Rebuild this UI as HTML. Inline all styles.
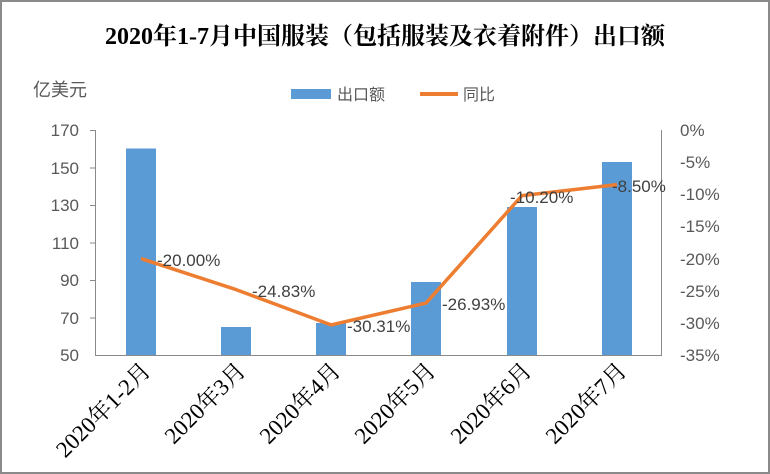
<!DOCTYPE html>
<html><head><meta charset="utf-8"><style>
body{margin:0;background:#fff}
svg{display:block}
</style></head><body>
<svg width="770" height="474" viewBox="0 0 770 474" xmlns="http://www.w3.org/2000/svg">
<rect x="1" y="1" width="768" height="472" fill="#fff" stroke="#8a8a8a" stroke-width="2"/>
<text x="385" y="44" text-anchor="middle" font-family="Liberation Serif, 'Noto Serif CJK SC', serif" font-size="24" font-weight="bold" fill="#000">2020年1-7月中国服装（包括服装及衣着附件）出口额</text>
<text x="33" y="96" font-family="Liberation Sans, 'Noto Sans CJK SC', sans-serif" font-size="18" fill="#595959">亿美元</text>
<rect x="291" y="89" width="40" height="10" fill="#5b9bd5"/>
<text x="337" y="100" font-family="Liberation Sans, 'Noto Sans CJK SC', sans-serif" font-size="16" fill="#595959">出口额</text>
<line x1="420" y1="94" x2="458" y2="94" stroke="#ed7d31" stroke-width="4"/>
<text x="463" y="100" font-family="Liberation Sans, 'Noto Sans CJK SC', sans-serif" font-size="16" fill="#595959">同比</text>
<g font-family="Liberation Sans, sans-serif" font-size="17" fill="#595959" text-anchor="end">
<text x="79" y="136">170</text><text x="79" y="174">150</text><text x="79" y="211">130</text><text x="79" y="249">110</text><text x="79" y="286">90</text><text x="79" y="324">70</text><text x="79" y="361">50</text>
</g>
<g font-family="Liberation Sans, sans-serif" font-size="17" fill="#595959">
<text x="680" y="136">0%</text><text x="680" y="168">-5%</text><text x="680" y="200">-10%</text><text x="680" y="232">-15%</text><text x="680" y="265">-20%</text><text x="680" y="297">-25%</text><text x="680" y="329">-30%</text><text x="680" y="361">-35%</text>
</g>
<g stroke="#8a8a8a" stroke-width="1">
<line x1="95.5" y1="130" x2="95.5" y2="355"/><line x1="90" y1="130.5" x2="95.5" y2="130.5"/><line x1="90" y1="168" x2="95.5" y2="168"/><line x1="90" y1="205.5" x2="95.5" y2="205.5"/><line x1="90" y1="243" x2="95.5" y2="243"/><line x1="90" y1="280.5" x2="95.5" y2="280.5"/><line x1="90" y1="318" x2="95.5" y2="318"/>
<line x1="661.5" y1="130" x2="661.5" y2="355"/>
<line x1="95" y1="355.5" x2="662" y2="355.5"/>
</g>
<g fill="#5b9bd5">
<rect x="126" y="148.5" width="30" height="206.5"/>
<rect x="221" y="327" width="30" height="28"/>
<rect x="316" y="323" width="30" height="32"/>
<rect x="411" y="282" width="30" height="73"/>
<rect x="507" y="207" width="30" height="148"/>
<rect x="602" y="162" width="30" height="193"/>
</g>
<polyline points="141,258.6 236,289.6 331,324.9 426,303.1 522,195.6 617,184.6" fill="none" stroke="#ed7d31" stroke-width="3.5" stroke-linejoin="round"/>
<g font-family="Liberation Sans, sans-serif" font-size="17" fill="#404040">
<text x="157" y="266">-20.00%</text><text x="252" y="297">-24.83%</text><text x="347" y="332">-30.31%</text><text x="442" y="310">-26.93%</text><text x="510" y="203">-10.20%</text><text x="612" y="192">-8.50%</text>
</g>
<g font-family="Liberation Serif, 'Noto Serif CJK SC', serif" font-size="23" fill="#000" text-anchor="end">
<text transform="translate(152,372) rotate(-45)">2020年1-2月</text>
<text transform="translate(247,372) rotate(-45)">2020年3月</text>
<text transform="translate(342,372) rotate(-45)">2020年4月</text>
<text transform="translate(437,372) rotate(-45)">2020年5月</text>
<text transform="translate(533,372) rotate(-45)">2020年6月</text>
<text transform="translate(628,372) rotate(-45)">2020年7月</text>
</g>
</svg>
</body></html>
